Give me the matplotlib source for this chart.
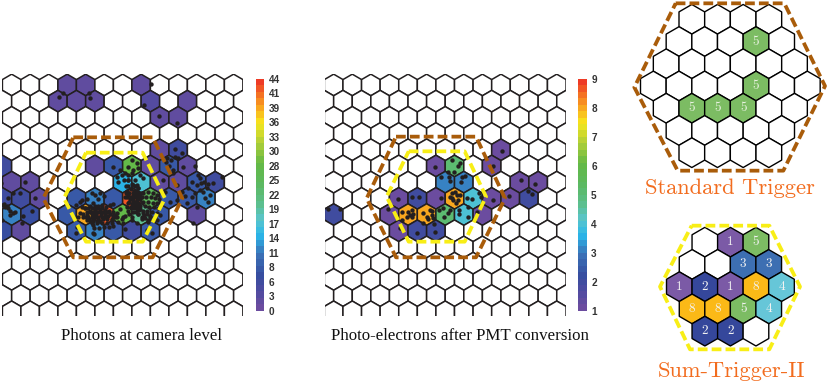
import numpy as np
import matplotlib
matplotlib.use("Agg")
import matplotlib.pyplot as plt
from matplotlib.collections import PolyCollection
from matplotlib.colors import LinearSegmentedColormap, Normalize
from matplotlib.cm import ScalarMappable

W, H = 830, 387

# ---- data (camera coordinates are in arbitrary reading units) ----
photon_rows = [0,0,0, 1,1,1,1,1, 2,2, 4,4,
               5,5,5,5,5,5,5, 6,6,6,6,6,6,6,6,
               7,7,7,7,7,7,7,7,7,7,7,
               8,8,8,8,8,8,8,8,8, 9,9,9,9,9,9,9]
photon_cols = [3,4,7, 2,3,4,7,9, 8,9, 8,9,
               -1,4,5,6,7,8,9, 0,1,6,7,8,9,10,11,
               -1,0,1,3,4,5,6,7,8,9,10,
               0,1,3,4,5,6,7,8,10, -1,0,3,4,5,6,7]
photon_vals = [2,2,2, 2,2,2,3,2, 2,2, 2,6,
               6,2,8,28,2,8,2, 2,2,14,16,2,2,8,6,
               6,6,2,8,11,8,42,25,8,8,11,
               12,7,8,39,42,28,20,8,2, 7,2,8,11,8,6,8]

pe_rows = [4, 5,5,5, 6,6,6,6,
           7,7,7,7,7,7,7,7,
           8,8,8,8,8,8,8, 9,9,9]
pe_cols = [9, 5,6,8, 6,7,10,11,
           3,4,5,6,7,8,9,10,
           0,3,4,5,6,7,8, 3,4,5]
pe_vals = [1, 1,5,1, 3,3,1,1,
           1,2,1,8,4,1,1,2,
           2,1,8,8,5,4,1, 1,2,2]

photon_x = [452,190,178,266,270,433,478,532,525,545,500,525,512,535,498,520,550,585,508,
            595,600,575,590,603,612,625,640,665,620,610,600,585,575,555,545,630,615,625,
            560,530,510,495,490,520,590,580,530,565,
            2,75,105,60,40,25,5,15,25,30,45,38,30,70,95,65,5,12,20,
            395,410,385,340,360,375,350,365,385,400,415,395,420,430,405,385,372,412,398,355,378,
            240,275,262,228,245,250,232,270,255,240,262,280,292,305,318,330,270,285,300,315,
            328,340,262,275,288,302,316,330,345,268,280,295,310,322,335,350,275,290,305,320,
            335,282,298,312,326,340,280,295,285,300,312,245,228,282,340,375,
            385,395,405,415,380,392,402,412,422,385,398,408,418,375,390,400,410,420,385,395,
            405,415,380,392,402,412,398,408,388,418,370,395,
            430,445,460,472,425,438,452,465,478,430,445,458,470,420,435,448,462,475,428,442,
            456,470,415,432,450,465,480,470,445,425,
            360,350,345,365,375,385,355,340,370,395,410,440,455,235,
            255,265,275,285,295,305,260,270,280,290,300,310,320,265,275,285,295,305,315,270,
            280,290,300,250,258,325,335,285,295,278,
            378,388,398,408,418,382,392,402,412,388,398,408,392,402,385,415,
            410,420,430,440,450,415,425,435,445]
photon_y = [72,98,110,100,115,135,168,188,268,278,295,290,300,295,305,330,322,318,318,
            345,355,365,375,370,365,372,370,350,385,395,390,400,410,408,395,405,415,425,
            430,420,425,395,360,340,440,490,375,385,
            370,365,415,400,400,415,435,440,445,452,455,460,465,468,452,490,480,432,438,
            300,310,320,322,330,340,350,345,345,330,325,340,345,355,360,360,360,375,375,365,378,
            425,400,418,435,442,470,500,438,445,458,480,430,440,435,442,436,452,450,448,450,
            452,455,465,462,462,464,462,462,465,478,476,476,476,478,476,472,490,490,490,490,
            488,503,503,500,500,498,520,418,405,398,408,420,518,522,432,508,
            378,372,378,385,392,388,392,395,398,405,408,405,408,412,418,420,420,418,430,432,
            432,428,442,445,445,440,455,455,462,450,470,480,
            400,395,398,405,412,410,412,415,418,425,425,428,430,438,438,440,442,445,452,452,
            455,458,462,465,468,470,465,480,480,478,
            448,458,470,478,468,452,486,468,490,470,490,510,520,470,
            445,445,445,445,445,445,455,455,455,455,455,455,455,470,470,470,470,470,470,483,
            483,483,483,462,472,468,480,438,438,495,
            400,400,400,400,400,412,412,412,412,425,425,425,440,440,360,385,
            448,448,458,462,470,462,470,475,485]

pe_x = [545,25,60,345,395,420,415,385,402,362,388,390,435,425,422,518,603,645,625,635,567,518,
        478,482,440,455,363,277,297,233,205,395,405,410,390,420,400,415,408,395,245,275,265,270,
        280,260,275,245,310,330,335,320,335,340,325,310,358,368,390,385,373,418,418,445,443,470,
        342,345,290,240]
pe_y = [273,447,447,320,300,310,318,335,335,352,352,362,347,352,365,318,360,372,393,403,407,420,
        398,412,415,418,415,412,412,417,447,400,395,405,410,405,420,420,430,415,455,450,455,465,
        462,470,470,480,460,450,452,470,465,475,478,490,450,445,450,460,472,450,463,442,470,455,
        492,517,518,505]

# trigger outlines, camera coordinates
std_panel_a_x = [220,458,547,458,220,130]
std_panel_a_y = [232,232,415,592,592,415]
sum_panel_a_x = [258,428,495,428,258,192]
sum_panel_a_y = [278,278,415,545,545,415]
std_panel_b_x = [228,468,555,468,228,140]
std_panel_b_y = [230,230,415,592,592,415]
sum_panel_b_x = [266,434,498,434,266,200]
sum_panel_b_y = [274,274,410,545,545,410]

cbar_a_labels = ["0","3","6","8","11","14","17","19","22","25","28","30","33","36","39","41","44"]
cbar_b_labels = ["1","2","3","4","5","6","7","8","9"]

std_row_cells = [4,5,6,7,6,5,4]
std_green = [(1,3),(3,4),(4,1),(4,2),(4,3)]
std_value = 5

sum_vals = [[0,1,5],
            [0,0,3,3],
            [1,2,1,8,4],
            [8,8,5,4],
            [2,2,0]]

# ---- style ----
EDGE = "#231f20"
BROWN = "#a95c0a"
YELLOW = "#f8ee16"
ORANGE = "#f26c1e"
DASH = (0, (2.6, 1.1))
LW = 2.7
cmap = LinearSegmentedColormap.from_list("camera", [
    (0.00, "#6b4c9f"), (0.07, "#4f4ba0"), (0.14, "#374d9f"), (0.24, "#3b73b8"),
    (0.32, "#2ab7ea"), (0.39, "#5ac5cc"), (0.46, "#5cbf8c"), (0.55, "#5cb95f"),
    (0.64, "#64b946"), (0.74, "#b7d136"), (0.82, "#f8e71c"), (0.89, "#f9a41f"),
    (1.00, "#ee3b26")], N=36)
mini_colors = {1:"#7b5aa6", 2:"#35479b", 3:"#3d6fb2", 4:"#66c6d8", 5:"#7cbc63", 8:"#fbb917"}

plt.rcParams["font.family"] = ["Liberation Sans"]
fig = plt.figure(figsize=(W/100, H/100), dpi=100)
fig.patch.set_facecolor("white")


def px_axes(x0, y0, x1, y1, xlim, ylim):
    ax = fig.add_axes([x0/W, 1-y1/H, (x1-x0)/W, (y1-y0)/H])
    ax.axis("off")
    ax.set_xlim(*xlim)
    ax.set_ylim(*ylim)
    ax.set_autoscale_on(False)
    return ax


def hex_verts(cx, cy, hw, r):
    return [(cx, cy-r), (cx+hw, cy-r/2), (cx+hw, cy+r/2), (cx, cy+r), (cx-hw, cy+r/2), (cx-hw, cy-r/2)]


def draw_panel(ax, x0, pitch, rows, cols, vals, vmax_norm, dots_x, dots_y, brown, yellow):
    y0, dy = 75, 48.6
    lookup = {(r, c): v for r, c, v in zip(rows, cols, vals)}
    verts, faces = [], []
    for r in range(15):
        odd = r % 2
        for c in range(-1 if odd else 0, 13):
            cx = x0 + pitch*(c + 0.5*odd)
            cy = y0 + dy*r
            verts.append(hex_verts(cx, cy, pitch/2, dy*2/3))
            v = lookup.get((r, c))
            faces.append(cmap(vmax_norm(v)) if v is not None else "white")
    ax.add_collection(PolyCollection(verts, facecolors=faces, edgecolors=EDGE, linewidths=1.1, zorder=2))
    ax.scatter(dots_x, dots_y, s=10, c=EDGE, linewidths=0, zorder=3)
    for (xs, ys), col in ((brown, BROWN), (yellow, YELLOW)):
        ax.fill(xs, ys, fill=False, edgecolor=col, lw=LW, ls=DASH, joinstyle="round", zorder=4)


def draw_cbar(x0, x1, vmin, vmax, labels):
    cax = fig.add_axes([x0/W, 1-310.7/H, (x1-x0)/W, (310.7-79)/H])
    cb = fig.colorbar(ScalarMappable(Normalize(vmin, vmax), cmap), cax=cax)
    cb.outline.set_visible(False)
    cb.set_ticks(np.linspace(vmin, vmax, len(labels)), labels=labels)
    cb.ax.tick_params(length=0, pad=3.2, labelsize=7.2, labelcolor="#333333")
    for t in cb.ax.get_yticklabels():
        t.set_fontweight("bold")


# panel A
axa = px_axes(2.33, 74.3, 243.3, 315.7, (7, 730), (767, 43))
draw_panel(axa, 35, 55.5, photon_rows, photon_cols, photon_vals, Normalize(0, 44), photon_x, photon_y,
           (std_panel_a_x, std_panel_a_y), (sum_panel_a_x, sum_panel_a_y))
draw_cbar(256, 264.3, 0, 44, cbar_a_labels)

# panel B
axb = px_axes(324.67, 74.3, 565.67, 315.7, (14, 737), (767, 43))
draw_panel(axb, 41, 55.77, pe_rows, pe_cols, pe_vals, Normalize(1, 9), pe_x, pe_y,
           (std_panel_b_x, std_panel_b_y), (sum_panel_b_x, sum_panel_b_y))
draw_cbar(578.3, 586.7, 1, 9, cbar_b_labels)

fig.text(141/W, 1-336/H, "Photons at camera level", family="Liberation Serif", fontsize=12.2,
         ha="center", va="center", color="#111111")
fig.text(460/W, 1-336/H, "Photo-electrons after PMT conversion", family="Liberation Serif", fontsize=12.2,
         ha="center", va="center", color="#111111")

# zoom: standard trigger
axs = px_axes(625, 0, 830, 200, (0, 615), (600, 0))
hw, rad, dy = 38.5, 44.5, 66.7
verts, faces = [], []
for r, n in enumerate(std_row_cells):
    for i in range(n):
        cx = 316 + (i-(n-1)/2)*2*hw
        cy = 258 + (r-3)*dy
        verts.append(hex_verts(cx, cy, hw, rad))
        green = (r, i) in std_green
        faces.append(mini_colors[std_value] if green else "white")
        if green:
            axs.text(cx, cy, str(std_value), family="cmr10", fontsize=9.5, color="#e8f2e0",
                     ha="center", va="center", zorder=5)
axs.add_collection(PolyCollection(verts, facecolors=faces, edgecolors="black", linewidths=1.0, zorder=2))
axs.fill([152,478,600,475,158,28], [10,10,258,512,512,262], fill=False, edgecolor=BROWN, lw=LW,
         ls=DASH, joinstyle="round", zorder=4)
axs.text(316, 565, "Standard Trigger", family="cmr10", fontsize=16.2, color=ORANGE, ha="center", va="center")

# zoom: sum trigger
axt = px_axes(650, 215, 820, 385, (0, 510), (510, 0))
verts, faces = [], []
for r, row in enumerate(sum_vals):
    shift = {0: 1, 1: 0.5, 2: 0, 3: 0.5, 4: 1}[r]
    for i, v in enumerate(row):
        cx = 88 + (i+shift)*2*hw*0.995
        cy = 215 + (r-2)*dy
        verts.append(hex_verts(cx, cy, hw, rad))
        faces.append(mini_colors.get(v, "white"))
        if v:
            axt.text(cx, cy, str(v), family="cmr10", fontsize=9.5, color="#f2f2f2",
                     ha="center", va="center", zorder=5)
axt.add_collection(PolyCollection(verts, facecolors=faces, edgecolors="black", linewidths=1.0, zorder=2))
axt.fill([125,358,450,358,120,30], [32,32,215,403,403,215], fill=False, edgecolor=YELLOW, lw=LW,
         ls=DASH, joinstyle="round", zorder=4)
axt.text(243, 468, "Sum-Trigger-II", family="cmr10", fontsize=16.2, color=ORANGE, ha="center", va="center")

fig.savefig("out.png", dpi=100)
